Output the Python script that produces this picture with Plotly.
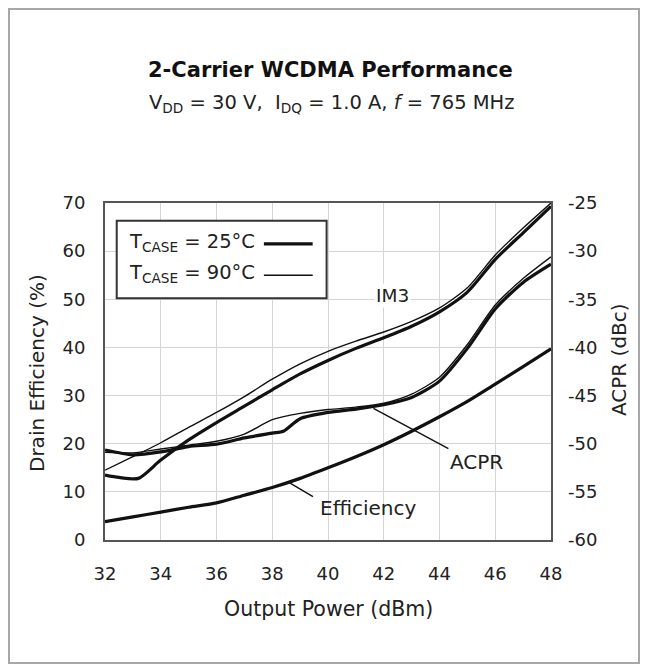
import plotly.graph_objects as go

# ---------------- data ----------------
pout = [32, 33, 34, 35, 36, 37, 38, 39, 40, 41, 42, 43, 44, 45, 46, 47, 48]

# Drain efficiency (%) – both temperatures coincide
eff_25 = [3.8, 4.8, 5.8, 6.8, 7.7, 9.3, 10.9, 12.8, 15.0, 17.3, 19.8, 22.6, 25.6, 28.8, 32.4, 36.0, 39.7]
eff_90 = [3.8, 4.8, 5.8, 6.8, 7.7, 9.3, 10.9, 12.8, 15.0, 17.3, 19.8, 22.6, 25.6, 28.8, 32.4, 36.0, 39.7]

# IM3 (dBc)
im3_25_x = [32, 32.5, 33.2, 34, 35, 36, 37, 38, 39, 40, 41, 42, 43, 44, 45, 46, 47, 48]
im3_25 = [-53.25, -53.5, -53.6, -51.7, -49.6, -47.8, -46.1, -44.4, -42.75, -41.35, -40.1, -39.0,
          -37.8, -36.3, -34.25, -30.85, -28.1, -25.35]
im3_90 = [-52.75, -51.35, -49.9, -48.3, -46.75, -45.1, -43.3, -41.7, -40.4, -39.35, -38.4, -37.3,
          -35.9, -33.8, -30.4, -27.6, -25.0]

# ACPR (dBc)
acpr_25_x = [32, 33, 34, 35, 36, 37, 38, 38.4, 39, 40, 41, 42, 43, 44, 45, 46, 47, 48]
acpr_25 = [-50.65, -51.15, -50.85, -50.3, -50.05, -49.4, -48.9, -48.7, -47.4, -46.75, -46.4, -45.95,
           -45.2, -43.5, -40.1, -36.0, -33.25, -31.35]
acpr_90 = [-50.9, -50.95, -50.55, -50.15, -49.75, -49.0, -47.5, -46.85, -46.45, -46.2, -45.8, -44.85,
           -43.1, -39.7, -35.6, -32.85, -30.6]

x_ticks = [32, 34, 36, 38, 40, 42, 44, 46, 48]
y_ticks = [0, 10, 20, 30, 40, 50, 60, 70]
y2_ticks = [-60, -55, -50, -45, -40, -35, -30, -25]

FONT = "DejaVu Sans"
INK = "#111111"
TXT = "#222222"
THICK = 3.2
THIN = 1.4

fig = go.Figure()

def add(x, y, w, axis="y", name=""):
    fig.add_trace(go.Scatter(x=x, y=y, mode="lines", yaxis=axis, name=name,
                             line=dict(color=INK, width=w, shape="spline", smoothing=0.7),
                             showlegend=False, hoverinfo="skip"))

add(pout, eff_90, THIN, "y", "Eff 90")
add(pout, eff_25, THICK, "y", "Eff 25")
add(pout, im3_90, THIN, "y2", "IM3 90")
add(im3_25_x, im3_25, THICK, "y2", "IM3 25")
add(pout, acpr_90, THIN, "y2", "ACPR 90")
add(acpr_25_x, acpr_25, THICK, "y2", "ACPR 25")

# ------------- layout geometry -------------
# page has an 8px body margin; target page pixel positions are converted
OFF = 8
W, H = 648 - 2 * OFF, 672 - 2 * OFF
L, R, T, B = 105 - OFF, 551 - OFF, 203 - OFF, 540 - OFF
PW, PH = R - L, B - T

def px(page_x):
    return (page_x - OFF - L) / PW

def py(page_y):
    return (B - (page_y - OFF)) / PH

shapes = []
# outer grey frame
shapes.append(dict(type="rect", xref="paper", yref="paper",
                   x0=px(9), x1=px(639), y0=py(663), y1=py(9),
                   line=dict(color="#a8a8a8", width=2), layer="below"))
# legend box
shapes.append(dict(type="rect", xref="x", yref="y", x0=32.42, x1=39.95, y0=50.2, y1=66.3,
                   line=dict(color="#333333", width=2), fillcolor="white", layer="above"))
# legend line samples
shapes.append(dict(type="line", xref="x", yref="y", x0=37.7, x1=39.45, y0=61.5, y1=61.5,
                   line=dict(color=INK, width=THICK)))
shapes.append(dict(type="line", xref="x", yref="y", x0=37.7, x1=39.45, y0=55.0, y1=55.0,
                   line=dict(color=INK, width=THIN)))
# leader lines
shapes.append(dict(type="line", xref="x", yref="y", x0=41.63, y0=27.35, x1=44.32, y1=19.0,
                   line=dict(color=INK, width=1.4)))
shapes.append(dict(type="line", xref="x", yref="y", x0=38.64, y0=11.8, x1=39.46, y1=9.0,
                   line=dict(color=INK, width=1.4)))

def ann(text, x, y, size, xref="paper", yref="paper", xanchor="center", **kw):
    d = dict(text=text, xref=xref, yref=yref, x=x, y=y, showarrow=False,
             xanchor=xanchor, yanchor="middle",
             font=dict(size=size, color=kw.pop("color", TXT), family=FONT))
    d.update(kw)
    return d

annotations = [
    ann("<b>2-Carrier WCDMA Performance</b>", px(330), py(70), 21, color=INK),
    ann("V<sub>DD</sub> = 30 V,  I<sub>DQ</sub> = 1.0 A, <i>f</i> = 765 MHz", px(332), py(104), 19.5),
    ann("Drain Efficiency (%)", px(37), py(373), 20, textangle=-90),
    ann("ACPR (dBc)", px(619), py(360), 20, textangle=-90),
    ann("Output Power (dBm)", px(328), py(609), 20.5),
    ann("T<sub>CASE</sub> = 25°C", 32.78, 61.9, 19.5, xref="x", yref="y", xanchor="left"),
    ann("T<sub>CASE</sub> = 90°C", 32.78, 55.4, 19.5, xref="x", yref="y", xanchor="left"),
    ann("IM3", 42.3, 50.7, 18.5, xref="x", yref="y", bgcolor="white"),
    ann("ACPR", 45.31, 16.2, 20, xref="x", yref="y"),
    ann("Efficiency", 41.47, 6.65, 20, xref="x", yref="y"),
]

fig.update_layout(
    width=W, height=H,
    margin=dict(l=L, r=W - R, t=T, b=H - B, pad=0),
    paper_bgcolor="white", plot_bgcolor="white",
    font=dict(family=FONT, color=TXT),
    xaxis=dict(range=[32, 48], tickvals=x_ticks, ticktext=[str(v) for v in x_ticks],
               showgrid=True, gridcolor="#d4d4d4", gridwidth=1,
               showline=True, linecolor="#555555", linewidth=2, mirror=True,
               ticks="", ticklabelstandoff=16, tickfont=dict(size=18, color=TXT, family=FONT),
               zeroline=False, fixedrange=True),
    yaxis=dict(range=[0, 70], tickvals=y_ticks, ticktext=[str(v) for v in y_ticks],
               showgrid=True, gridcolor="#d4d4d4", gridwidth=1,
               showline=True, linecolor="#555555", linewidth=2, mirror=True,
               ticks="", ticklabelstandoff=14, tickfont=dict(size=18, color=TXT, family=FONT),
               zeroline=False, fixedrange=True),
    yaxis2=dict(range=[-60, -25], tickvals=y2_ticks, ticktext=[str(v) for v in y2_ticks],
                overlaying="y", side="right",
                showgrid=False, showline=False, ticks="", ticklabelstandoff=16,
                tickfont=dict(size=18, color=TXT, family=FONT), zeroline=False, fixedrange=True),
    shapes=shapes,
    annotations=annotations,
)

fig.write_html("out.html")
